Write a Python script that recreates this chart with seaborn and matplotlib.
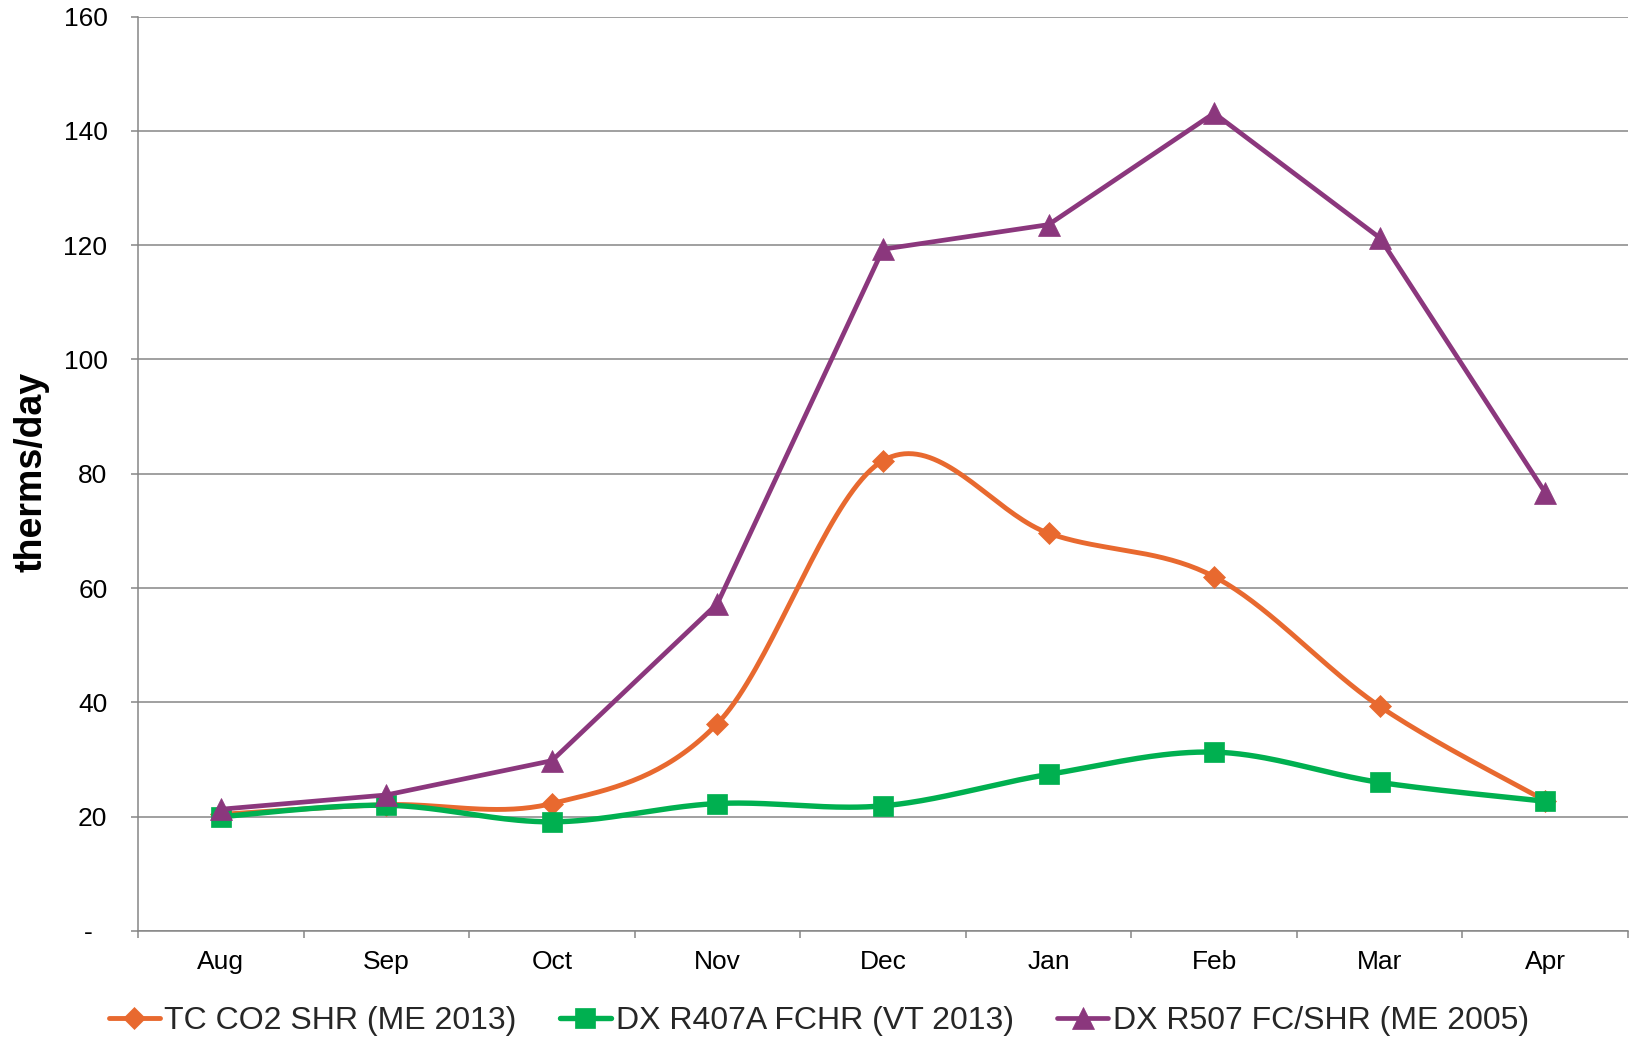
import numpy as np
import pandas as pd
import matplotlib
matplotlib.use("Agg")
import matplotlib.pyplot as plt
from matplotlib.lines import Line2D
from matplotlib.ticker import FixedLocator, FuncFormatter
import seaborn as sns

# ---------------- data ----------------
months = ["Aug", "Sep", "Oct", "Nov", "Dec", "Jan", "Feb", "Mar", "Apr"]
tc_co2 = [20.4, 22.1, 22.3, 36.3, 82.3, 69.6, 62.0, 39.3, 22.8]
dx_r407a = [20.0, 22.0, 19.1, 22.3, 21.9, 27.4, 31.3, 26.0, 22.7]
dx_r507 = [21.3, 23.8, 29.8, 57.3, 119.3, 123.6, 143.1, 121.3, 76.7]
series_names = ["TC CO2 SHR (ME 2013)", "DX R407A FCHR (VT 2013)", "DX R507 FC/SHR (ME 2005)"]
y_ticks = [0, 20, 40, 60, 80, 100, 120, 140, 160]
y_label = "therms/day"

# ---------------- styles ----------------
colors = ["#E8692F", "#00B050", "#8B377D"]
markers = ["D", "s", "^"]
msizes = [11, 14.5, 15.5]
lws = [3.5, 3.9, 3.4]
smooth = [True, True, False]

sns.set_theme(style="white")
plt.rcParams["font.family"] = ["Liberation Sans", "DejaVu Sans"]

GRID = "#868686"


def excel_smooth(y, n=40):
    """Bezier smoothing like Excel's 'smoothed line' (Catmull-Rom control points)."""
    x = np.arange(len(y), dtype=float)
    P = np.column_stack([x, np.asarray(y, dtype=float)])
    out = [P[0]]
    t = np.linspace(0, 1, n)[1:, None]
    for i in range(len(P) - 1):
        p0 = P[i - 1] if i > 0 else P[i]
        p1 = P[i]
        p2 = P[i + 1]
        p3 = P[i + 2] if i + 2 < len(P) else P[i + 1]
        c1 = p1 + (p2 - p0) / 6.0
        c2 = p2 - (p3 - p1) / 6.0
        b = (1 - t) ** 3 * p1 + 3 * (1 - t) ** 2 * t * c1 + 3 * (1 - t) * t ** 2 * c2 + t ** 3 * p2
        out.extend(b)
    out = np.array(out)
    return out[:, 0], out[:, 1]


fig = plt.figure(figsize=(16.31, 10.38), dpi=100)
ax = fig.add_axes([0.0846, 0.1031, 0.9136, 0.8809])

xpos = np.arange(len(months))
all_series = [tc_co2, dx_r407a, dx_r507]
handles = []
for k, (vals, name, c, m, ms, lw, sm) in enumerate(zip(all_series, series_names, colors, markers,
                                                       msizes, lws, smooth)):
    if sm:
        xs, ys = excel_smooth(vals)
    else:
        xs, ys = xpos.astype(float), np.asarray(vals, dtype=float)
    line_df = pd.DataFrame({"x": xs, "y": ys})
    sns.lineplot(data=line_df, x="x", y="y", ax=ax, color=c, lw=lw, sort=False,
                 estimator=None, zorder=3 + 2 * k, legend=False)
    pt_df = pd.DataFrame({"x": xpos, "y": vals})
    sns.lineplot(data=pt_df, x="x", y="y", ax=ax, color=c, lw=0, marker=m,
                 markersize=ms, markeredgewidth=0.5, markeredgecolor=c,
                 estimator=None, zorder=4 + 2 * k, legend=False)
    handles.append(Line2D([], [], color=c, lw=lw, marker=m, markersize=ms,
                          markeredgewidth=0.5, markeredgecolor=c, label=name))

for ln in ax.get_lines():
    ln.set_clip_on(False)

# ---------------- axes ----------------
ax.set_xlim(-0.5, len(months) - 0.5)
ax.set_ylim(0, 160)
ax.set_xlabel("")
ax.set_ylabel("")

ax.xaxis.set_major_locator(FixedLocator(xpos))
ax.set_xticklabels(months)
ax.xaxis.set_minor_locator(FixedLocator(np.arange(len(months) + 1) - 0.5))
ax.tick_params(axis="x", which="major", length=0, pad=14, labelsize=19, labelcolor="black")
ax.tick_params(axis="x", which="minor", length=5, width=1.1, color=GRID, direction="out", bottom=True)

ax.yaxis.set_major_locator(FixedLocator(y_ticks))
ax.yaxis.set_major_formatter(FuncFormatter(lambda v, p: "-  " if v == 0 else f"{int(v)}"))
ax.tick_params(axis="y", which="major", length=5, width=1.1, color=GRID, direction="out",
               left=True, pad=17, labelsize=19, labelcolor="black")

ax.yaxis.grid(True, color=GRID, lw=1.1)
ax.xaxis.grid(False)
ax.set_axisbelow(True)
for s in ["top", "right"]:
    ax.spines[s].set_visible(False)
for s in ["left", "bottom"]:
    ax.spines[s].set_color(GRID)
    ax.spines[s].set_linewidth(1.1)

fig.text(32 / 1631, 1 - 472 / 1038, y_label, rotation=90, ha="center", va="center",
         fontsize=27, fontweight="bold", color="black")

fig.legend(handles=handles, ncol=3, loc="center", bbox_to_anchor=(0.502, 1 - 1021 / 1038),
           frameon=False, fontsize=23, handlelength=1.6, handletextpad=0.15,
           columnspacing=1.35, borderaxespad=0)

fig.savefig("out.png", dpi=100)
